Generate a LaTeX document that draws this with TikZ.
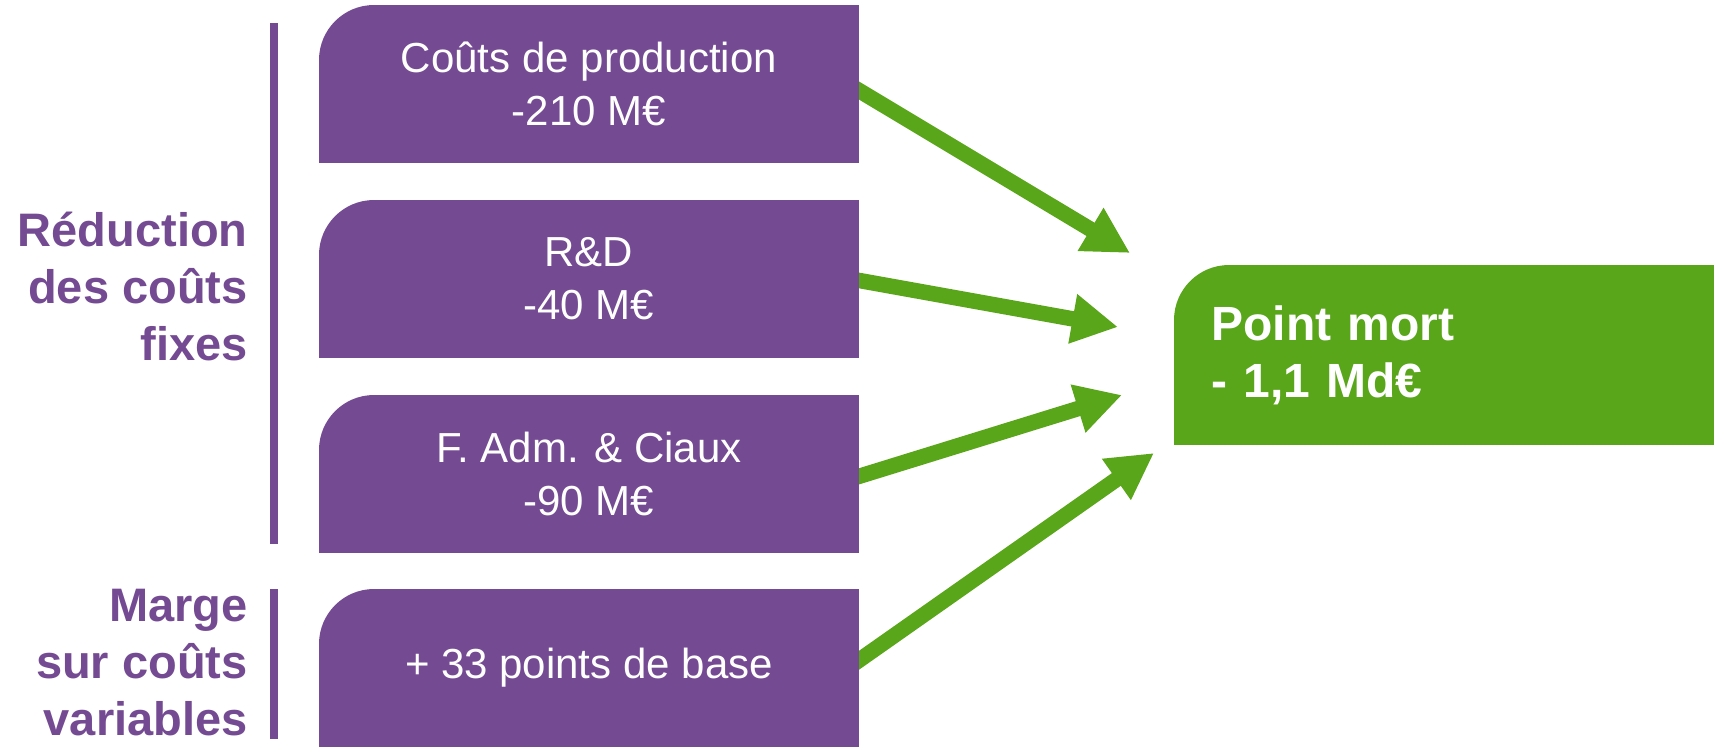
\documentclass[tikz,border=0pt]{standalone}
\usepackage{fontspec}
\setmainfont{Liberation Sans}
\usetikzlibrary{arrows.meta,backgrounds}
\definecolor{vio}{HTML}{744A92}
\definecolor{vert}{HTML}{5AA61A}
\begin{document}
\begin{tikzpicture}[x=0.5pt,y=-0.5pt,
  pbox/.style={anchor=north west, minimum width=269.5pt, minimum height=78.5pt, inner sep=0pt, text=white, align=center, font=\fontsize{21pt}{26.25pt}\selectfont},
  gbox/.style={anchor=north west, minimum height=89.5pt, text width=233pt, inner xsep=18.5pt, inner ysep=0pt, text=white, align=left, font=\fontsize{24pt}{28.5pt}\selectfont\bfseries},
  lbl/.style={anchor=east, align=right, text=vio, inner sep=0pt, font=\fontsize{23.5pt}{28.5pt}\selectfont\bfseries},
  arr/.style={draw=vert, line width=7.75pt, shorten <=-12pt, -{Triangle[length=23pt,width=23.5pt]}},
  bar/.style={draw=vio, line width=4pt}]
\useasboundingbox (0,0) rectangle (1714,746);

% boxes (text only; fills on background)
\node[pbox] (b1) at (319,5) {Coûts de production\\-210 M€};
\node[pbox] (b2) at (319,200) {R\&D\\-40 M€};
\node[pbox] (b3) at (319,395) {F. Adm. \& Ciaux\\-90 M€};
\node[pbox] (b4) at (319,589) {+ 33 points de base};
\node[gbox] (pm) at (1174,265) {Point mort\\- 1,1 Md€};

% left labels
\node[lbl] (l1) at (248,286) {Réduction\\des coûts\\fixes};
\node[lbl] (l2) at (248,663) {Marge\\sur coûts\\variables};

% brackets
\draw[bar] (274,23) -- (274,544);
\draw[bar] (274,589) -- (274,739);

% arrow tips
\coordinate (t1) at (1130,253);
\coordinate (t2) at (1118,327);
\coordinate (t3) at (1122,395);
\coordinate (t4) at (1154,453);

\begin{scope}[on background layer]
  \draw[arr] ([yshift=-3.25pt]b1.east) -- (t1);
  \draw[arr] ([yshift=-0.75pt]b2.east) -- (t2);
  \draw[arr] ([yshift=-1.25pt]b3.east) -- (t3);
  \draw[arr] ([yshift=3.75pt]b4.east) -- (t4);
  \foreach \n in {b1,b2,b3,b4}
    \fill[vio] (\n.south west) -- ([yshift=-27.5pt]\n.north west)
      arc[start angle=180, end angle=90, radius=27.5pt]
      -- (\n.north east) -- (\n.south east) -- cycle;
  \fill[vert] (pm.south west) -- ([yshift=-27.5pt]pm.north west)
      arc[start angle=180, end angle=90, radius=27.5pt]
      -- (pm.north east) -- (pm.south east) -- cycle;
\end{scope}
\end{tikzpicture}
\end{document}
